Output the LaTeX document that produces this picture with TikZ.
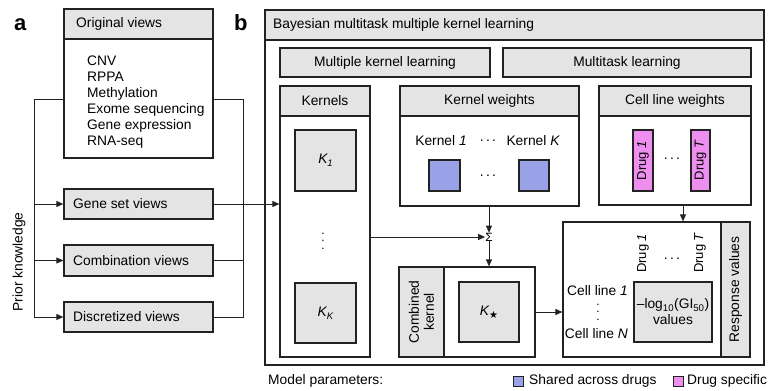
\documentclass[tikz,border=0pt]{standalone}
\usepackage{fontspec}
\setmainfont{Liberation Sans}
\newfontfamily\dejavu{DejaVu Sans}
\usetikzlibrary{arrows.meta}
\definecolor{hdr}{HTML}{E4E4E4}
\definecolor{bluew}{HTML}{99A2E6}
\definecolor{pinkw}{HTML}{EE8EEE}
\definecolor{edge}{HTML}{222222}
\newcommand\bx[7]{\node[#1, minimum width={(#5-#3)*1pt}, minimum height={(#6-#4)*1pt}] (#2) at ({(#3+#5)/2},{(#4+#6)/2}) {#7};}
\newcommand\subit[1]{\raisebox{-3.5pt}{\fontsize{9.5}{10}\selectfont\itshape #1}}
\begin{document}
\begin{tikzpicture}[x=1pt,y=-1pt,
  font=\fontsize{13.8}{16}\selectfont,
  box/.style={draw=edge, line width=1.3pt, fill=white, inner sep=0pt},
  gbox/.style={box, fill=hdr},
  bbox/.style={box, fill=bluew},
  pbox/.style={box, fill=pinkw},
  txt/.style={inner sep=0pt},
  vdots/.style={inner sep=0pt, rotate=90, font=\fontsize{12}{12}\selectfont},
  conn/.style={draw=edge, line width=0.8pt},
  arr/.style={conn, -{Triangle[length=7pt,width=6pt]}},
  rot/.style={rotate=90, inner sep=0pt}]
\useasboundingbox (0,0) rectangle (769,391);
% panel labels
\node[txt, anchor=base west, font=\fontsize{22}{22}\selectfont\bfseries] (la) at (14,30) {a};
\node[txt, anchor=base west, font=\fontsize{22}{22}\selectfont\bfseries] (lb) at (234,30) {b};
% ---------- panel a ----------
\bx{box}{orig}{64}{9}{213}{158}{}
\bx{gbox}{origh}{64}{9}{213}{39}{}
\node[txt, anchor=west] (origt) at (76,24) {Original views};
\node[txt, anchor=west, align=left, font=\fontsize{13.8}{16}\selectfont] (origl) at (87,102)
  {CNV\\RPPA\\Methylation\\Exome sequencing\\Gene expression\\RNA-seq};
\bx{gbox}{gene}{64}{189}{213}{219}{}
\node[txt, anchor=west] (genet) at (73,204) {Gene set views};
\bx{gbox}{comb}{64}{245}{213}{276}{}
\node[txt, anchor=west] (combt) at (73,260.5) {Combination views};
\bx{gbox}{disc}{64}{302}{213}{332}{}
\node[txt, anchor=west] (disct) at (73,317) {Discretized views};
\node[rot] (prior) at (19,262) {Prior knowledge};
\coordinate (lt) at (34,99);
\coordinate (rt) at (243,99);
\draw[conn] (orig.west |- lt) -- (lt) -- (lt |- disc.west);
\draw[arr] (lt |- gene.west) -- (gene.west);
\draw[arr] (lt |- comb.west) -- (comb.west);
\draw[arr] (lt |- disc.west) -- (disc.west);
\draw[conn] (orig.east |- rt) -- (rt) -- (rt |- disc.east) -- (disc.east);
\draw[conn] (comb.east) -- (rt |- comb.east);
% ---------- panel b ----------
\bx{box}{outer}{265}{10}{764}{365}{}
\bx{gbox}{outerh}{265}{10}{764}{40}{}
\node[txt, anchor=west] (outert) at (273,25) {Bayesian multitask multiple kernel learning};
\bx{gbox}{mkl}{280}{48}{490}{77}{Multiple kernel learning}
\bx{gbox}{mtl}{503}{48}{751}{77}{Multitask learning}
% kernels
\bx{box}{kern}{280}{86}{370}{357}{}
\bx{gbox}{kernh}{280}{86}{370}{116}{Kernels}
\bx{gbox}{k1}{295}{130}{356}{191}{{\itshape K}\subit{1}}
\bx{gbox}{kk}{295}{283}{356}{343}{{\itshape K}\subit{K}}
\node[vdots] (kdots) at (323,241) {.\,\,.\,\,.};
% kernel weights
\bx{box}{kw}{400}{86}{579}{206}{}
\bx{gbox}{kwh}{400}{86}{579}{116}{Kernel weights}
\node[txt] (kw1) at (441,141) {Kernel {\itshape 1}};
\node[txt] (kwd) at (488,141) {.\,.\,.};
\node[txt] (kwk) at (533,141) {Kernel {\itshape K}};
\bx{bbox}{b1}{429}{160}{460}{191}{}
\bx{bbox}{b2}{519}{160}{549}{191}{}
\node[txt] (bd) at (488,176) {.\,.\,.};
% cell line weights
\bx{box}{clw}{599}{86}{751}{205}{}
\bx{gbox}{clwh}{599}{86}{751}{116}{Cell line weights}
\bx{pbox}{d1}{633}{130}{653}{191}{}
\bx{pbox}{dT}{691}{130}{710}{191}{}
\node[rot, font=\fontsize{13}{14}\selectfont] (d1t) at (d1) {Drug {\itshape 1}};
\node[rot, font=\fontsize{13}{14}\selectfont] (dTt) at (dT) {Drug {\itshape T}};
\node[txt] (dd) at (672,159) {.\,.\,.};
% sum
\node[txt, font=\fontsize{12}{12}\selectfont] (sig) at (489,237) {Σ};
% combined kernel
\bx{box}{ck}{399}{267}{535}{357}{}
\bx{gbox}{cks}{399}{267}{444}{357}{}
\node[rot, align=center, font=\fontsize{13.8}{15}\selectfont] (ckt) at (cks) {Combined\\kernel};
\bx{gbox}{kst}{459}{282}{519}{342}{{\itshape K}\raisebox{-3pt}{\dejavu\fontsize{10}{10}\selectfont ★}}
% response
\bx{box}{resp}{563}{222}{750}{357}{}
\bx{gbox}{resps}{721}{222}{750}{357}{}
\node[rot] (respt) at (resps) {Response values};
\node[rot, anchor=west, font=\fontsize{13}{14}\selectfont] (rd1) at (643,273) {Drug {\itshape 1}};
\node[rot, anchor=west, font=\fontsize{13}{14}\selectfont] (rdT) at (700,273) {Drug {\itshape T}};
\node[txt] (rdd) at (672,259) {.\,.\,.};
\bx{gbox}{gi}{634}{282}{712}{342}{}
\node[txt, align=center, font=\fontsize{13.8}{16}\selectfont] (git) at (gi)
  {–log\textsubscript{10}(GI\textsubscript{50})\\values};
\node[txt, anchor=east] (cl1) at (628,291) {Cell line {\itshape 1}};
\node[txt, anchor=east] (clN) at (628,334) {Cell line {\itshape N}};
\node[vdots] (cld) at (598,312) {.\,\,.\,\,.};
% connectors in b
\draw[arr] (gene.east) -- (gene.east -| kern.west);
\draw[arr] (kern.east |- sig) -- (sig.west);
\draw[arr] (kw.south -| sig) -- (sig.north);
\draw[arr] (sig.south) -- (sig.south |- ck.north);
\draw[arr] (ck.east) -- (ck.east -| resp.west);
\coordinate (clwx) at (683,0);
\draw[arr] (clw.south -| clwx) -- (resp.north -| clwx);
% legend
\node[txt, anchor=west] (mp) at (268,381) {Model parameters:};
\node[draw=edge, line width=0.8pt, fill=bluew, minimum size=10pt, inner sep=0pt] (lgb) at (518,381) {};
\node[txt, anchor=west] (lgbt) at (529,381) {Shared across drugs};
\node[draw=edge, line width=0.8pt, fill=pinkw, minimum size=10pt, inner sep=0pt] (lgp) at (678,381) {};
\node[txt, anchor=west] (lgpt) at (687,381) {Drug specific};
\end{tikzpicture}
\end{document}
